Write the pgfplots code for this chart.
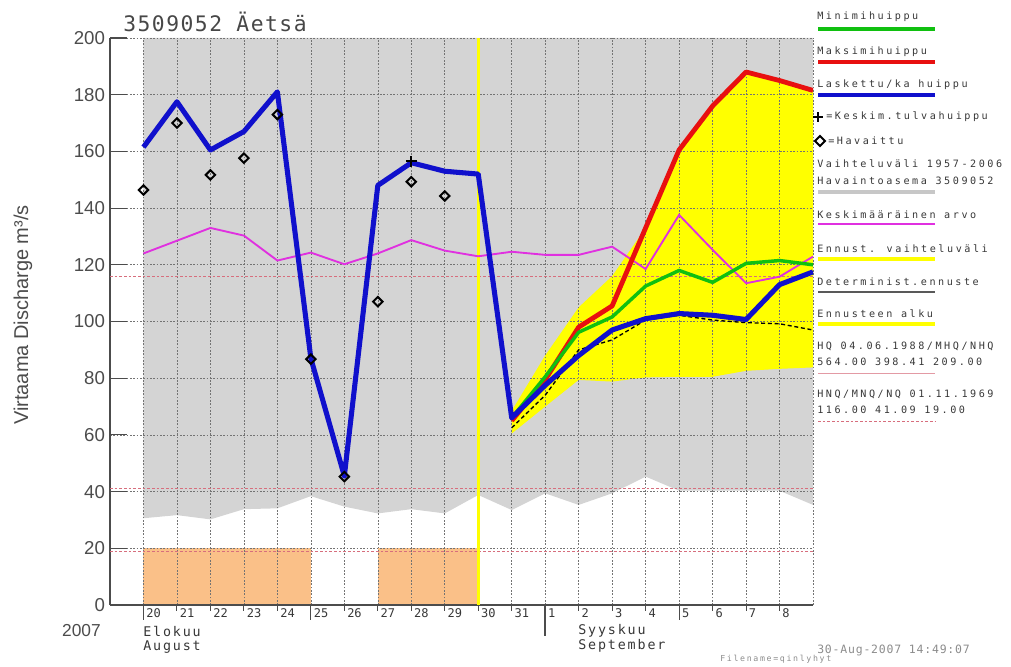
\documentclass[border=0pt]{standalone}
\usepackage{pgfplots}
\pgfplotsset{compat=1.18}
\usepackage{fontspec}
\setmainfont{Liberation Sans}
\newfontfamily\mono{DejaVu Sans Mono}
\newfontfamily\monols[LetterSpace=25]{DejaVu Sans Mono}
\newfontfamily\monolm[LetterSpace=14]{DejaVu Sans Mono}
\newfontfamily\monot[LetterSpace=7]{DejaVu Sans Mono}
\newfontfamily\monof[LetterSpace=20]{DejaVu Sans Mono}
\definecolor{bgray}{RGB}{212,212,212}
\definecolor{cblue}{RGB}{16,16,204}
\definecolor{cred}{RGB}{232,16,16}
\definecolor{cgreen}{RGB}{16,192,16}
\definecolor{cmag}{RGB}{224,48,224}
\definecolor{cyel}{RGB}{255,255,0}
\definecolor{corange}{RGB}{250,192,136}
\definecolor{cpink}{RGB}{215,110,125}
\definecolor{txt}{RGB}{55,55,55}
\newcommand\lgf{\monols\fontsize{7.6pt}{9pt}\selectfont}
\begin{document}
\begin{tikzpicture}[x=0.75pt,y=0.75pt]
\path (0,0) rectangle (1011,667);
\begin{axis}[
  at={(82.5pt,46.5pt)}, anchor=south west,
  scale only axis, width=527.25pt, height=425.25pt,
  xmin=-1, xmax=20, ymin=0, ymax=200,
  set layers,
  axis x line*=bottom, axis y line*=left,
  axis line style={draw=black!70, line width=0.8pt},
  xtick={0,...,20},
  xticklabels={20,21,22,23,24,25,26,27,28,29,30,31,1,2,3,4,5,6,7,8,{}},
  xtick style={draw=none},
  ytick={0,20,...,200},
  ytick style={draw=black!70, line width=0.8pt},
  major tick length=12.75pt,
  tick align=inside,
  xmajorgrids, ymajorgrids,
  grid style={black!55, line width=0.45pt, dash pattern=on 1.2pt off 1.3pt},
  /pgf/number format/assume math mode=true,
  yticklabel style={font=\fontsize{14pt}{15pt}\selectfont, text=black!70, inner sep=0pt, xshift=-3.6pt},
  xticklabel style={font=\mono\fontsize{9pt}{10pt}\selectfont, text=txt, anchor=north west, inner sep=0pt, xshift=2pt, yshift=-2.5pt},
]
% historical variation range (gray)
\addplot[on layer=axis background, fill=bgray, draw=none] coordinates {
 (0,30.6)(1,31.7)(2,30.2)(3,33.8)(4,34.1)(5,38.4)(6,34.7)(7,32.3)(8,33.8)(9,32.3)(10,38.8)
 (11,33.5)(12,39.4)(13,35.3)(14,39.4)(15,45.3)(16,40.3)(17,40.3)(18,40.3)(19,40.3)(20,35.3)
 (20,200)(0,200)};
% forecast range (yellow)
\addplot[on layer=axis background, fill=cyel, draw=none] coordinates {
 (11,68.5)(12,88)(13,105)(14,116)(15,133)(16,160.5)(17,176)(18,188)(19,185)(20,181.5)
 (20,83.8)(19,83.3)(18,82.6)(17,80.5)(16,80.5)(15,80.3)(14,78.8)(13,79.4)(12,70)(11,60.5)};
% orange blocks
\addplot[on layer=axis background, fill=corange, draw=none] coordinates {(0,0)(0,20)(5,20)(5,0)};
\addplot[on layer=axis background, fill=corange, draw=none] coordinates {(7,0)(7,20)(10,20)(10,0)};
% HNQ / MNQ / NQ
\addplot[cpink, line width=0.7pt, dash pattern=on 2pt off 1.5pt] coordinates {(-1,116)(20,116)};
\addplot[cpink, line width=0.7pt, dash pattern=on 2pt off 1.5pt] coordinates {(-1,41.09)(20,41.09)};
\addplot[cpink, line width=0.7pt, dash pattern=on 2pt off 1.5pt] coordinates {(-1,19)(20,19)};
% forecast start
\addplot[cyel, line width=2.2pt] coordinates {(10,0)(10,200)};
% mean
\addplot[cmag, line width=1.4pt] coordinates {
 (0,124)(1,128.5)(2,133)(3,130.3)(4,121.5)(5,124.3)(6,120.2)(7,124)(8,128.7)(9,125)(10,123)
 (11,124.6)(12,123.5)(13,123.5)(14,126.4)(15,118.5)(16,137.6)(17,125.3)(18,113.5)(19,115.8)(20,122.9)};
% max
\addplot[cred, line width=3.6pt, line join=round] coordinates {
 (11,65)(12,79.5)(13,98)(14,105.5)(15,133)(16,160.5)(17,176)(18,188)(19,185)(20,181.5)};
% min
\addplot[cgreen, line width=2.6pt, line join=round] coordinates {
 (11,66)(12,80.5)(13,96.2)(14,101.6)(15,112.5)(16,118)(17,113.8)(18,120.5)(19,121.5)(20,120)};
% deterministic forecast
\addplot[black, line width=1pt, dash pattern=on 3pt off 2pt] coordinates {
 (11,62.5)(12,74)(13,90)(14,93.5)(15,100.5)(16,102.2)(17,100.5)(18,99.6)(19,99.2)(20,97)};
% computed
\addplot[cblue, line width=3.8pt, line join=round] coordinates {
 (0,161.5)(1,177.5)(2,160.5)(3,167)(4,181)(5,87)(6,45.5)(7,148)(8,156)(9,153)(10,152)
 (11,66)(12,77.5)(13,88)(14,97)(15,101)(16,102.8)(17,102.2)(18,100.7)(19,113)(20,117.5)};
% observed
\addplot[only marks, mark=square, mark size=2.5pt, black, line width=1.5pt,
  every mark/.append style={rotate=45}] coordinates {
 (0,146.4)(1,170)(2,151.7)(3,157.6)(4,173)(5,86.7)(6,45.3)(7,107)(8,149.3)(9,144.3)};
% mean flood peak
\addplot[only marks, mark=+, mark size=4pt, black, line width=1.4pt] coordinates {(8,156.5)};
\end{axis}
% x tick marks
\foreach \i in {0,...,19} {\draw[black!70, line width=0.8pt] ({110+33.476*(\i+1)},62) -- ++(0,-6);}
\foreach \i in {0,5,16} {\draw[black!70, line width=0.8pt] ({110+33.476*(\i+1)},62) -- ++(0,-15);}
\draw[black!70, line width=1.3pt] ({110+33.476*13},62) -- ++(0,-31);
% title
\node[anchor=west, inner sep=0pt, text=black!72] at (123,645) {\monot\fontsize{16pt}{18pt}\selectfont 3509052 Äetsä};
% y label
\node[rotate=90, inner sep=0pt, text=black!70] at (23,352) {\fontsize{15pt}{17pt}\selectfont Virtaama Discharge m³/s};
% bottom texts
\node[anchor=east, inner sep=0pt, text=black!70] at (101,36) {\fontsize{13pt}{14pt}\selectfont 2007};
\node[anchor=west, inner sep=0pt, text=txt] at (143,36) {\monolm\fontsize{10pt}{12pt}\selectfont Elokuu};
\node[anchor=west, inner sep=0pt, text=txt] at (143,20) {\monolm\fontsize{10pt}{12pt}\selectfont August};
\node[anchor=west, inner sep=0pt, text=txt] at (578,36) {\monolm\fontsize{10pt}{12pt}\selectfont Syyskuu};
\node[anchor=west, inner sep=0pt, text=txt] at (578,21) {\monolm\fontsize{10pt}{12pt}\selectfont September};
\node[anchor=west, inner sep=0pt, text=black!45] at (817,17) {\monot\fontsize{8.6pt}{10pt}\selectfont 30-Aug-2007 14:49:07};
\node[anchor=west, inner sep=0pt, text=black!45] at (720,8) {\monof\fontsize{6.2pt}{7pt}\selectfont Filename=qinlyhyt};
% legend
\node[anchor=west, inner sep=0pt, text=txt] at (817,650) {\lgf Minimihuippu};
\draw[cgreen, line width=3pt] (818,638) -- (935,638);
\node[anchor=west, inner sep=0pt, text=txt] at (817,615) {\lgf Maksimihuippu};
\draw[cred, line width=3pt] (818,605) -- (935,605);
\node[anchor=west, inner sep=0pt, text=txt] at (817,582) {\lgf Laskettu/ka huippu};
\draw[cblue, line width=3pt] (818,572) -- (935,572);
\draw[black, line width=1.4pt] (813,550) -- (823,550) (818,545) -- (818,555);
\node[anchor=west, inner sep=0pt, text=txt] at (826,550) {\lgf =Keskim.tulvahuippu};
\draw[black, line width=1.4pt] (820,531) -- (825,526) -- (820,521) -- (815,526) -- cycle;
\node[anchor=west, inner sep=0pt, text=txt] at (828,526) {\lgf =Havaittu};
\node[anchor=west, inner sep=0pt, text=txt] at (817,503) {\lgf Vaihteluväli 1957-2006};
\node[anchor=west, inner sep=0pt, text=txt] at (817,486) {\lgf Havaintoasema 3509052};
\draw[black!22, line width=3pt] (818,475) -- (935,475);
\node[anchor=west, inner sep=0pt, text=txt] at (817,452) {\lgf Keskimääräinen arvo};
\draw[cmag, line width=1.5pt] (818,443) -- (935,443);
\node[anchor=west, inner sep=0pt, text=txt] at (817,418) {\lgf Ennust. vaihteluväli};
\draw[cyel, line width=3pt] (818,408) -- (935,408);
\node[anchor=west, inner sep=0pt, text=txt] at (817,385.5) {\lgf Determinist.ennuste};
\draw[black!65, line width=1.2pt] (818,375) -- (935,375);
\node[anchor=west, inner sep=0pt, text=txt] at (817,353) {\lgf Ennusteen alku};
\draw[cyel, line width=2.4pt] (818,343) -- (935,343);
\node[anchor=west, inner sep=0pt, text=txt] at (817,321) {\lgf HQ 04.06.1988/MHQ/NHQ};
\node[anchor=west, inner sep=0pt, text=txt] at (817,305) {\lgf 564.00 398.41 209.00};
\draw[cpink!70, line width=0.7pt] (818,294) -- (935,294);
\node[anchor=west, inner sep=0pt, text=txt] at (817,273) {\lgf HNQ/MNQ/NQ 01.11.1969};
\node[anchor=west, inner sep=0pt, text=txt] at (817,257) {\lgf 116.00 41.09 19.00};
\draw[cpink, line width=0.7pt, dash pattern=on 2pt off 1.5pt] (818,246) -- (935,246);
\end{tikzpicture}
\end{document}
